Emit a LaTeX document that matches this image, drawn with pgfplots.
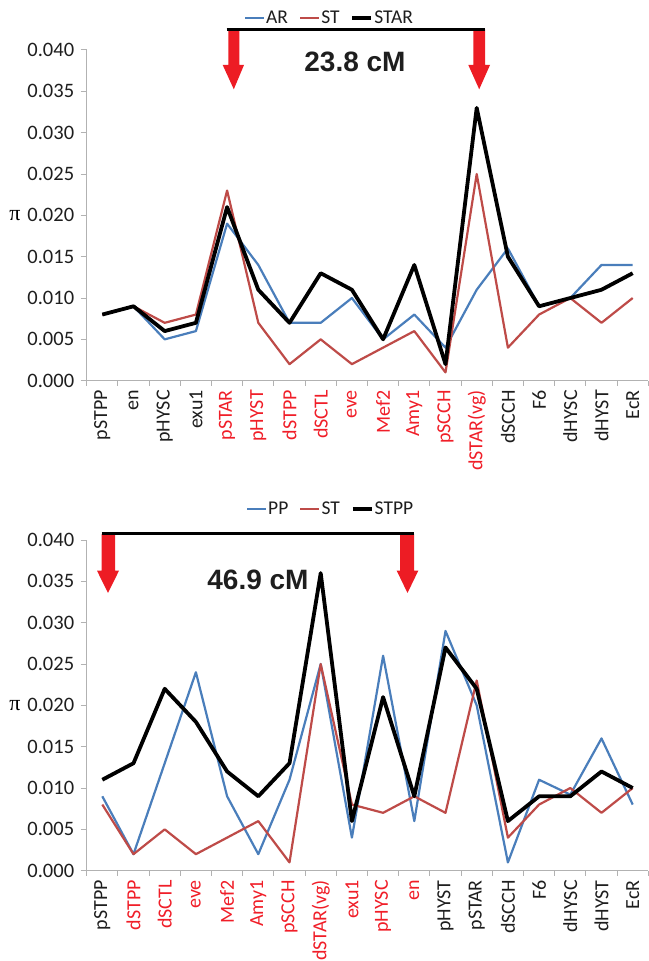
\documentclass[border=0pt]{standalone}
\usepackage{pgfplots}
\pgfplotsset{compat=1.18}
\usepackage{pgfplotstable}
\usepackage{fontspec}
\setmainfont{Carlito}
\newfontfamily\arialb{Liberation Sans}
\newfontfamily\serif{Liberation Serif}

\definecolor{cblue}{RGB}{74,126,187}
\definecolor{cred}{RGB}{190,75,72}
\definecolor{axgray}{RGB}{178,178,178}
\definecolor{lred}{RGB}{240,30,40}
\definecolor{arrred}{RGB}{237,28,36}
\definecolor{txt}{RGB}{30,30,30}

\pgfplotstableread{
x AR ST STAR
0 0.008 0.008 0.008
1 0.009 0.009 0.009
2 0.005 0.007 0.006
3 0.006 0.008 0.007
4 0.019 0.023 0.021
5 0.014 0.007 0.011
6 0.007 0.002 0.007
7 0.007 0.005 0.013
8 0.010 0.002 0.011
9 0.005 0.004 0.005
10 0.008 0.006 0.014
11 0.004 0.001 0.002
12 0.011 0.025 0.033
13 0.016 0.004 0.015
14 0.009 0.008 0.009
15 0.010 0.010 0.010
16 0.014 0.007 0.011
17 0.014 0.010 0.013
}\toptable

\pgfplotstableread{
x PP ST STPP
0 0.009 0.008 0.011
1 0.002 0.002 0.013
2 0.013 0.005 0.022
3 0.024 0.002 0.018
4 0.009 0.004 0.012
5 0.002 0.006 0.009
6 0.011 0.001 0.013
7 0.025 0.025 0.036
8 0.004 0.008 0.006
9 0.026 0.007 0.021
10 0.006 0.009 0.009
11 0.029 0.007 0.027
12 0.020 0.023 0.022
13 0.001 0.004 0.006
14 0.011 0.008 0.009
15 0.0092 0.010 0.009
16 0.016 0.007 0.012
17 0.008 0.010 0.010
}\bottable

\pgfplotsset{
  mystyle/.style={
    scale only axis, width=561.6pt, height=330.7pt,
    xmin=-0.5, xmax=17.5, ymin=0, ymax=0.04,
    axis lines=left,
    axis line style={-, draw=axgray, line width=1pt},
    tick align=outside,
    xtick={0,...,17},
    major x tick style={draw=none},
    minor xtick={-0.5,0.5,...,17.5},
    minor tick length=5pt,
    minor x tick style={draw=axgray, line width=1pt},
    ytick={0,0.005,0.01,0.015,0.02,0.025,0.03,0.035,0.04},
    yticklabels={0.000,0.005,0.010,0.015,0.020,0.025,0.030,0.035,0.040},
    y tick style={draw=axgray, line width=1pt},
    major tick length=6pt,
    scaled y ticks=false,
    xticklabel style={rotate=90, anchor=east, font=\fontsize{20}{20}\selectfont, text=txt},
    yticklabel style={font=\fontsize{20.5}{20}\selectfont, text=txt, xshift=-3pt},
    every axis y label/.style={at={(rel axis cs:0,0.5)}, anchor=center, xshift=-71.7pt},
    ylabel={\serif\fontsize{22}{22}\selectfont π},
    clip=false,
    legend columns=-1,
    legend image code/.code={\draw[#1] (0pt,0pt)--(19pt,0pt);},
    legend style={draw=none, fill=none, anchor=center,
      font=\fontsize{19.5}{19}\selectfont, text=txt,
      nodes={inner sep=1pt},
      /tikz/every even column/.append style={column sep=10pt}},
    every axis plot/.append style={line join=round},
  }
}

\begin{document}
\begin{tikzpicture}
% top chart
\begin{axis}[mystyle, at={(86.7pt,580.3pt)}, anchor=south west,
  xticklabels={pSTPP,en,pHYSC,exu1,\textcolor{lred}{pSTAR},\textcolor{lred}{pHYST},\textcolor{lred}{dSTPP},\textcolor{lred}{dSCTL},\textcolor{lred}{eve},\textcolor{lred}{Mef2},\textcolor{lred}{Amy1},\textcolor{lred}{pSCCH},\textcolor{lred}{dSTAR(vg)},dSCCH,F6,dHYSC,dHYST,EcR},
  legend style={at={(rel axis cs:0.4315,1.0968)}},
]
\addplot[cblue, line width=2.2pt] table[x=x, y=AR] {\toptable};
\addplot[cred, line width=2.2pt] table[x=x, y=ST] {\toptable};
\addplot[black, line width=3.8pt] table[x=x, y=STAR] {\toptable};
\legend{AR,ST,STAR}
\end{axis}

% bottom chart
\begin{axis}[mystyle, at={(86.7pt,90.3pt)}, anchor=south west,
  xticklabels={pSTPP,\textcolor{lred}{dSTPP},\textcolor{lred}{dSCTL},\textcolor{lred}{eve},\textcolor{lred}{Mef2},\textcolor{lred}{Amy1},\textcolor{lred}{pSCCH},\textcolor{lred}{dSTAR(vg)},\textcolor{lred}{exu1},\textcolor{lred}{pHYSC},\textcolor{lred}{en},pHYST,pSTAR,dSCCH,F6,dHYSC,dHYST,EcR},
  legend style={at={(rel axis cs:0.4334,1.0937)}},
]
\addplot[cblue, line width=2.2pt] table[x=x, y=PP] {\bottable};
\addplot[cred, line width=2.2pt] table[x=x, y=ST] {\bottable};
\addplot[black, line width=3.8pt] table[x=x, y=STPP] {\bottable};
\legend{PP,ST,STPP}
\end{axis}

% annotations: top
\fill[arrred] (228.3pt,931.7pt)--(239.3pt,931.7pt)--(239.3pt,896pt)--(244pt,896pt)--(233.8pt,871.7pt)--(222.7pt,896pt)--(228.3pt,896pt)--cycle;
\fill[arrred] (473.3pt,931.7pt)--(485pt,931.7pt)--(485pt,896pt)--(490pt,896pt)--(479.2pt,871.7pt)--(468.3pt,896pt)--(473.3pt,896pt)--cycle;
\draw[black, line width=3pt] (226.7pt,931.7pt)--(485pt,931.7pt);
\node[font=\arialb\bfseries\fontsize{28}{28}\selectfont, text=txt] at (355pt,899pt) {23.8 cM};

% annotations: bottom
\fill[arrred] (101.7pt,427pt)--(115pt,427pt)--(115pt,390.3pt)--(119pt,390.3pt)--(108pt,368pt)--(97pt,390.3pt)--(101.7pt,390.3pt)--cycle;
\fill[arrred] (400pt,427pt)--(414pt,427pt)--(414pt,390.3pt)--(418.3pt,390.3pt)--(407.5pt,368pt)--(396.7pt,390.3pt)--(400pt,390.3pt)--cycle;
\draw[black, line width=3pt] (101.7pt,427pt)--(414pt,427pt);
\node[font=\arialb\bfseries\fontsize{28}{28}\selectfont, text=txt] at (258pt,381pt) {46.9 cM};

\pgfresetboundingbox
\useasboundingbox (0pt,0pt) rectangle (648pt,961pt);
\end{tikzpicture}
\end{document}
